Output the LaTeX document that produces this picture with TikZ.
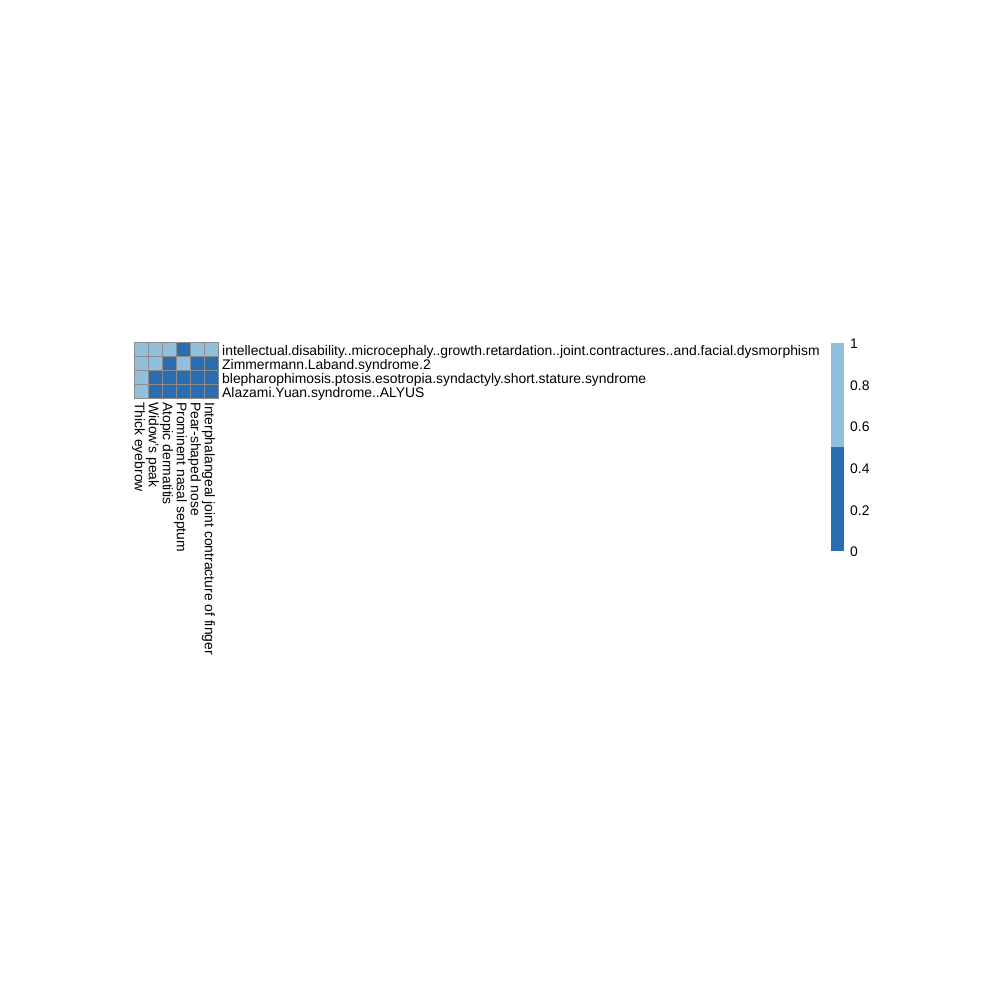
\documentclass[tikz,border=0pt]{standalone}
\usepackage{fontspec}
\setmainfont{Liberation Sans}
\definecolor{lightc}{HTML}{92BFDB}
\definecolor{darkc}{HTML}{2A6DB0}
\definecolor{gridc}{HTML}{8C8C8C}
\begin{document}
\begin{tikzpicture}[x=1pt,y=-1pt,
  cellL/.style={fill=lightc,draw=gridc,line width=0.9pt},
  cellD/.style={fill=darkc,draw=gridc,line width=0.9pt},
  rowlab/.style={anchor=west,inner sep=0pt,font=\fontsize{13.9}{14}\selectfont},
  collab/.style={anchor=west,rotate=-90,inner sep=0pt,font=\fontsize{13.9}{14}\selectfont},
  barlab/.style={anchor=west,inner sep=0pt,font=\fontsize{13.9}{14}\selectfont}]
\useasboundingbox (0,0) rectangle (1000,1000);
\fill[white] (0,0) rectangle (1000,1000);
% heatmap cells (column/row/value)
\foreach \i/\j/\c in {
  0/0/L,1/0/L,2/0/L,3/0/D,4/0/L,5/0/L,
  0/1/L,1/1/L,2/1/D,3/1/L,4/1/D,5/1/D,
  0/2/L,1/2/D,2/2/D,3/2/D,4/2/D,5/2/D,
  0/3/L,1/3/D,2/3/D,3/3/D,4/3/D,5/3/D}{
  \path[cell\c] ({134+14*\i},{342+14*\j}) rectangle ++(14,14);
}
% row labels
\node[rowlab] (r1) at (222,351.5) {intellectual.disability..microcephaly..growth.retardation..joint.contractures..and.facial.dysmorphism};
\node[rowlab] (r2) at (222,365.5) {Zimmermann.Laband.syndrome.2};
\node[rowlab] (r3) at (222,379.5) {blepharophimosis.ptosis.esotropia.syndactyly.short.stature.syndrome};
\node[rowlab] (r4) at (222,393.5) {Alazami.Yuan.syndrome..ALYUS};
% column labels
\node[collab] (c1) at (138.5,402) {Thick eyebrow};
\node[collab] (c2) at (152.5,402) {Widow's peak};
\node[collab] (c3) at (166.5,402) {Atopic dermatitis};
\node[collab] (c4) at (180.5,402) {Prominent nasal septum};
\node[collab] (c5) at (194.5,402) {Pear-shaped nose};
\node[collab] (c6) at (208.5,402) {Interphalangeal joint contracture of finger};
% colour bar
\fill[lightc] (831,343) rectangle (844,447);
\fill[darkc] (831,447) rectangle (844,551);
\node[barlab] (b1) at (850,344) {1};
\node[barlab] (b2) at (850,386) {0.8};
\node[barlab] (b3) at (850,427) {0.6};
\node[barlab] (b4) at (850,469) {0.4};
\node[barlab] (b5) at (850,511) {0.2};
\node[barlab] (b6) at (850,552) {0};
\end{tikzpicture}
\end{document}
